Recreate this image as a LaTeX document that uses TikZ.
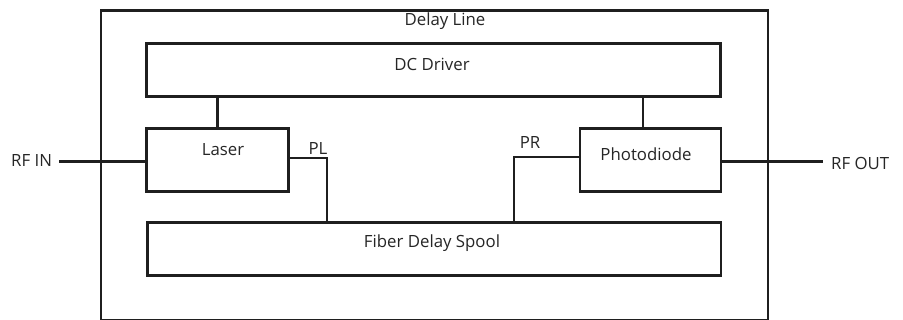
\documentclass[tikz,border=0pt]{standalone}
\usepackage{fontspec}
\setmainfont{Open Sans}
\begin{document}
\begin{tikzpicture}[x=1pt,y=-1pt,
  box/.style={draw=black!88,line width=2.8pt,rectangle,inner sep=0pt,anchor=north west},
  wire/.style={draw=black!88,line width=2.8pt},
  lbl/.style={font=\fontsize{16.8}{18}\selectfont,text=black!85,inner sep=0pt}]
\useasboundingbox (0,0) rectangle (903,320);
\fill[white] (0,0) rectangle (903,320);
\node[box,minimum width=667pt,minimum height=309.5pt] (outer) at (99.5,9.5) {};
\node[box,minimum width=574pt,minimum height=53pt] (dc) at (145,42.5) {};
\node[box,minimum width=142pt,minimum height=63pt] (laser) at (145,127) {};
\node[box,minimum width=141pt,minimum height=63.5pt] (pd) at (578.5,127) {};
\node[box,minimum width=573.5pt,minimum height=53pt] (spool) at (146,221.5) {};
\node[lbl] (tdl) at (445,21) {Delay Line};
\node[lbl] (tdc) at (432,64.5) {DC Driver};
\node[lbl] (tla) at (223,149.5) {Laser};
\node[lbl] (tpd) at (646,154.5) {Photodiode};
\node[lbl] (tsp) at (432,243.5) {Fiber Delay Spool};
\node[lbl] (tpl) at (318,148.5) {PL};
\node[lbl] (tpr) at (530,142.5) {PR};
\node[lbl,anchor=west] (rfin) at (11,160.5) {RF IN};
\node[lbl,anchor=west] (rfout) at (831,163.5) {RF OUT};
\coordinate (inend) at (59,161.5);
\coordinate (outend) at (823,161.5);
\draw[wire] (inend) -- (inend -| laser.west);
\draw[wire] (pd.east |- outend) -- (outend);
\draw[wire] (laser.north) -- (laser.north |- dc.south);
\draw[wire] (643,127) -- (643,95.5);
\draw[wire] (laser.east |- 0,158) -- (327,158) -- (327,221.5);
\draw[wire] (pd.west |- 0,157) -- (514,157) -- (514,221.5);
\end{tikzpicture}
\end{document}
